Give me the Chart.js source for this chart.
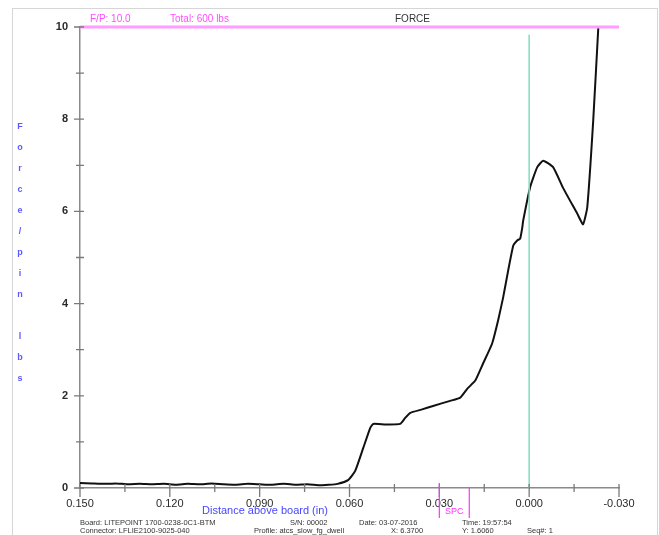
<!DOCTYPE html>
<html>
<head>
<meta charset="utf-8">
<script src="https://cdn.jsdelivr.net/npm/chart.js@4.4.1/dist/chart.umd.min.js"></script>
<style>
  html, body { margin: 0; padding: 0; background: #fff; }
  canvas { display: block; }
</style>
</head>
<body>
<canvas id="forceChart" width="659" height="535"></canvas>
<script>
// distance above board (in) and force per pin (lbs)
const distance = [
  0.150, 0.146, 0.142, 0.138, 0.134, 0.130, 0.126, 0.122, 0.118, 0.114,
  0.110, 0.106, 0.102, 0.098, 0.094, 0.090, 0.086, 0.082, 0.078, 0.074,
  0.070, 0.067, 0.064, 0.0605, 0.0581, 0.0554, 0.0531, 0.0521, 0.048, 0.0431,
  0.0414, 0.0397, 0.036, 0.0321, 0.0264, 0.0230, 0.0207, 0.0180, 0.0154, 0.0124,
  0.0104, 0.0087, 0.0070, 0.0053, 0.0040, 0.0030, 0.0023, 0.0020, -0.0003, -0.0027,
  -0.0047, -0.0080, -0.0114, -0.0160, -0.0180, -0.0194, -0.0214, -0.0231
];
const force = [
  0.11, 0.10, 0.09, 0.10, 0.08, 0.09, 0.08, 0.09, 0.07, 0.09,
  0.08, 0.10, 0.08, 0.07, 0.09, 0.08, 0.07, 0.09, 0.07, 0.08,
  0.06, 0.07, 0.09, 0.17, 0.37, 0.87, 1.30, 1.39, 1.38, 1.39,
  1.52, 1.63, 1.70, 1.78, 1.89, 1.96, 2.15, 2.33, 2.70, 3.13,
  3.63, 4.13, 4.72, 5.26, 5.37, 5.41, 5.65, 5.80, 6.52, 6.96,
  7.10, 6.96, 6.50, 5.96, 5.72, 6.09, 7.98, 10.0
];

// F/P limit line and zero-distance marker
const limitDistance = [0.150, -0.030];
const limitForce = [10, 10];
const zeroDistance = [0, 0];
const zeroForce = [0, 9.83];

// SPC marker positions on the distance axis
const spcMarks = [0.030, 0.020];

const yTitle = ['F', 'o', 'r', 'c', 'e', '/', 'p', 'i', 'n', '', 'l', 'b', 's'];

const footerRow1 = [
  ['Board: LITEPOINT 1700-0238-0C1-BTM', 80],
  ['S/N: 00002', 290],
  ['Date: 03-07-2016', 359],
  ['Time: 19:57:54', 462]
];
const footerRow2 = [
  ['Connector: LFLIE2100-9025-040', 80],
  ['Profile: atcs_slow_fg_dwell', 254],
  ['X: 6.3700', 391],
  ['Y: 1.6060', 462],
  ['Seq#: 1', 527]
];

const toPoints = (xs, ys) => xs.map((v, i) => ({ x: v, y: ys[i] }));

const FONT = '"Liberation Sans", Arial, sans-serif';

const decorPlugin = {
  id: 'decor',
  afterDraw(chart) {
    const ctx = chart.ctx;
    const x = chart.scales.x;
    const y = chart.scales.y;
    ctx.save();

    // frame
    ctx.strokeStyle = '#d6d6d6';
    ctx.lineWidth = 1;
    ctx.strokeRect(12.5, 8.5, 645, 540);

    // tick marks crossing the axes
    ctx.strokeStyle = '#7a7a7a';
    ctx.lineWidth = 1.3;
    ctx.beginPath();
    x.ticks.forEach(t => {
      const px = x.getPixelForValue(t.value);
      const major = Math.abs(Math.round(t.value / 0.015)) % 2 === 0;
      ctx.moveTo(px, y.bottom - 4);
      ctx.lineTo(px, y.bottom + (major ? 9 : 4));
    });
    y.ticks.forEach(t => {
      const py = y.getPixelForValue(t.value);
      const major = Math.round(t.value) % 2 === 0;
      ctx.moveTo(x.left - (major ? 6 : 4), py);
      ctx.lineTo(x.left + 4, py);
    });
    ctx.stroke();

    // header
    ctx.font = '10px ' + FONT;
    ctx.textBaseline = 'alphabetic';
    ctx.textAlign = 'left';
    ctx.fillStyle = '#ff4dff';
    ctx.fillText('F/P: 10.0', 90, 22);
    ctx.fillText('Total: 600 lbs', 170, 22);
    ctx.fillStyle = '#333';
    ctx.fillText('FORCE', 395, 22);

    // y title, one letter per row
    ctx.font = 'bold 9px ' + FONT;
    ctx.fillStyle = '#5a5aff';
    ctx.textAlign = 'center';
    ctx.textBaseline = 'middle';
    yTitle.forEach((ch, i) => ctx.fillText(ch, 20, 127 + i * 21));

    // x title
    ctx.font = '11px ' + FONT;
    ctx.fillStyle = '#4646ff';
    ctx.fillText('Distance above board (in)', 265, 511);

    // SPC marker
    const s1 = x.getPixelForValue(spcMarks[0]);
    const s2 = x.getPixelForValue(spcMarks[1]);
    ctx.strokeStyle = '#ff33ff';
    ctx.lineWidth = 1.2;
    ctx.beginPath();
    ctx.moveTo(s1, y.bottom - 5);
    ctx.lineTo(s1, 518);
    ctx.moveTo(s2, y.bottom);
    ctx.lineTo(s2, 518);
    ctx.stroke();
    ctx.font = '9px ' + FONT;
    ctx.fillStyle = '#ff33ff';
    ctx.fillText('SPC', (s1 + s2) / 2, 512);

    // footer
    ctx.font = '7.5px ' + FONT;
    ctx.fillStyle = '#333';
    ctx.textAlign = 'left';
    footerRow1.forEach(([t, px]) => ctx.fillText(t, px, 523));
    footerRow2.forEach(([t, px]) => ctx.fillText(t, px, 531));

    ctx.restore();
  }
};

new Chart(
  document.getElementById('forceChart'),
  {
    type: 'line',
    data: {
      datasets: [
        {
          data: toPoints(limitDistance, limitForce),
          borderColor: '#ff9cff',
          borderWidth: 3,
          pointRadius: 0,
          clip: false
        },
        {
          data: toPoints(zeroDistance, zeroForce),
          borderColor: '#7fdcbc',
          borderWidth: 1.5,
          pointRadius: 0
        },
        {
          data: toPoints(distance, force),
          borderColor: '#111',
          borderWidth: 2,
          pointRadius: 0,
          tension: 0.15,
          clip: false
        }
      ]
    },
    options: {
      responsive: false,
      animation: false,
      layout: {
        padding: { top: 27, right: 40, left: 0, bottom: 0 }
      },
      plugins: {
        legend: { display: false },
        tooltip: { enabled: false }
      },
      scales: {
        x: {
          type: 'linear',
          reverse: true,
          min: -0.030,
          max: 0.150,
          afterFit(scale) { scale.height = 47; },
          border: { display: true, color: '#8a8a8a', width: 1.5 },
          grid: { display: true, drawOnChartArea: false, drawTicks: false },
          ticks: {
            stepSize: 0.015,
            autoSkip: false,
            maxRotation: 0,
            padding: 9,
            color: '#2a2a2a',
            font: { family: FONT, size: 11 },
            callback: v => (Math.abs(Math.round(v / 0.015)) % 2 === 0 ? v.toFixed(3) : '')
          }
        },
        y: {
          min: 0,
          max: 10,
          afterFit(scale) { scale.width = 80; },
          border: { display: true, color: '#8a8a8a', width: 1.5 },
          grid: { display: true, drawOnChartArea: false, drawTicks: false },
          ticks: {
            stepSize: 1,
            autoSkip: false,
            padding: 12,
            color: '#2a2a2a',
            font: { family: FONT, size: 11, weight: 'bold' },
            callback: v => (Math.round(v) % 2 === 0 ? String(v) : '')
          }
        }
      }
    },
    plugins: [decorPlugin]
  }
);
</script>
</body>
</html>
